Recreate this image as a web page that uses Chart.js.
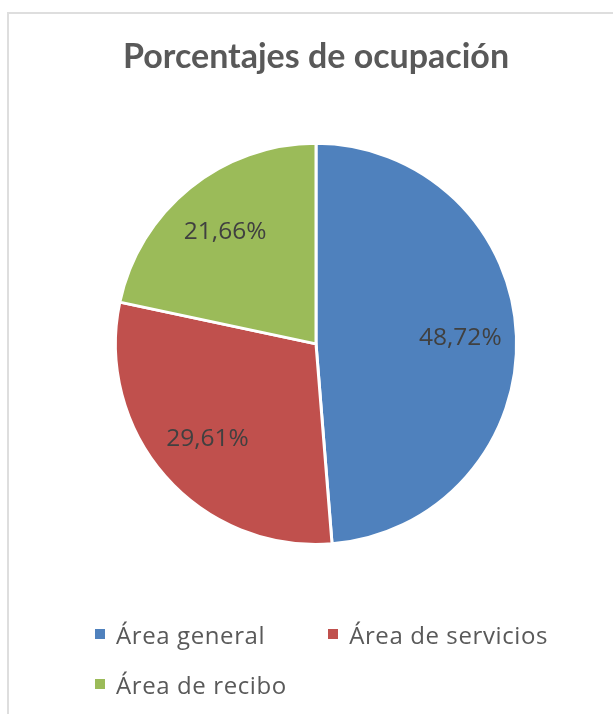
<!DOCTYPE html>
<html>
<head>
<meta charset="utf-8">
<script src="https://cdn.jsdelivr.net/npm/chart.js@4.4.1/dist/chart.umd.min.js"></script>
<style>
  html, body { margin: 0; padding: 0; background: #fff; overflow: hidden; }
  body { width: 613px; height: 714px; position: relative; }
  #marco { position: absolute; left: 7px; top: 12px; width: 700px; height: 800px;
           border-left: 2px solid #dedede; border-top: 2px solid #dedede; }
  #grafico { position: absolute; left: 0; top: 0; }
  #leyenda { position: absolute; left: 95px; top: 609px; width: 480px;
             display: flex; flex-wrap: wrap; column-gap: 63px;
             font-family: 'Open Sans', sans-serif; font-size: 24px; letter-spacing: 0.6px;
             color: #595959; }
  #leyenda .item { display: flex; align-items: center; height: 50px; }
  #leyenda .caja { width: 10px; height: 10px; margin-right: 11px; }
</style>
</head>
<body>
<div id="marco"></div>
<canvas id="grafico" width="613" height="714"></canvas>
<div id="leyenda"></div>
<script>
// datos del grafico
var areas = ['Área general', 'Área de servicios', 'Área de recibo'];
var porcentajes = [48.72, 29.61, 21.66];
var colores = ['#4F81BD', '#C0504D', '#9BBB59'];

// etiquetas dentro de cada porcion
var etiquetas = {
    id: 'etiquetas',
    afterDatasetsDraw: function(chart) {
        var ctx = chart.ctx;
        var meta = chart.getDatasetMeta(0);
        ctx.save();
        ctx.font = '24.5px "Open Sans"';
        ctx.fillStyle = '#404040';
        ctx.textAlign = 'center';
        ctx.textBaseline = 'middle';
        meta.data.forEach(function(arc, i) {
            var p = arc.getProps(['x', 'y', 'startAngle', 'endAngle', 'outerRadius'], true);
            var mid = (p.startAngle + p.endAngle) / 2;
            var r = p.outerRadius * 0.72;
            var txt = porcentajes[i].toFixed(2).replace('.', ',') + '%';
            ctx.fillText(txt, p.x + Math.cos(mid) * r, p.y + Math.sin(mid) * r);
        });
        ctx.restore();
    }
};

// leyenda en html
var leyendaHtml = {
    id: 'leyendaHtml',
    afterUpdate: function(chart) {
        var cont = document.getElementById('leyenda');
        cont.innerHTML = '';
        var items = Chart.overrides.pie.plugins.legend.labels.generateLabels(chart);
        items.forEach(function(it) {
            var div = document.createElement('div');
            div.className = 'item';
            var caja = document.createElement('span');
            caja.className = 'caja';
            caja.style.background = it.fillStyle;
            var txt = document.createElement('span');
            txt.textContent = it.text;
            div.appendChild(caja);
            div.appendChild(txt);
            cont.appendChild(div);
        });
    }
};

var ctx = document.getElementById('grafico').getContext('2d');
var grafico = new Chart(ctx, {
    type: 'pie',
    data: {
        labels: areas,
        datasets: [{
            data: porcentajes,
            backgroundColor: colores,
            borderColor: '#ffffff',
            borderWidth: 3
        }]
    },
    options: {
        responsive: false,
        animation: false,
        layout: { padding: { left: 19, right: 0, top: 0, bottom: 168 } },
        plugins: {
            legend: { display: false },
            tooltip: { enabled: false },
            title: {
                display: true,
                text: 'Porcentajes de ocupación',
                color: '#595959',
                font: { family: 'Lato', size: 34, weight: 'bold' },
                padding: { top: 37, bottom: 64 }
            }
        }
    },
    plugins: [etiquetas, leyendaHtml]
});
</script>
</body>
</html>
